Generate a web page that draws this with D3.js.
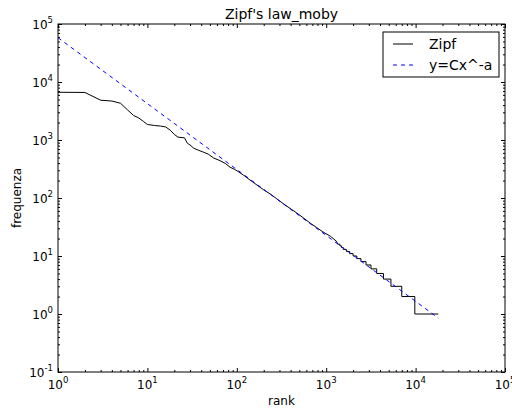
<!DOCTYPE html>
<html>
<head>
<meta charset="utf-8">
<script src="https://cdn.jsdelivr.net/npm/d3@7"></script>
<style>
body { margin:0; background:#fff; }
svg { display:block; font-family:"DejaVu Sans", sans-serif; }
.axis path { stroke:none; }
.axis line { stroke:#000; stroke-width:1; }
</style>
</head>
<body>
<div id="chart"></div>
<script>
// rank / frequency (head of the curve)
var headRank = [1, 2, 3, 4, 5, 6, 7, 8, 9, 10, 12, 14, 16, 18, 20, 22, 26, 28, 30, 33, 37, 42, 48, 55, 65, 75, 84, 95, 104, 120, 140, 170, 200, 235, 280, 330, 395, 470, 560, 660, 780, 920, 1110, 1300]
var headFreq = [6650, 6600, 4850, 4700, 4300, 3300, 2650, 2400, 2100, 1850, 1780, 1740, 1680, 1480, 1250, 1120, 1090, 880, 820, 720, 670, 620, 570, 490, 440, 390, 340, 310, 285, 245, 205, 165, 138, 118, 97, 80, 66, 55, 45, 37, 31, 26, 22, 18]

// tail: frequency levels and the rank where each level starts
var stepFreq  = [16, 15, 14, 13, 12, 11, 10, 9, 8, 7, 6, 5, 4, 3, 2, 1]
var stepStart = [1350, 1420, 1480, 1550, 1680, 1830, 2000, 2200, 2450, 2790, 3170, 3670, 4370, 5300, 7000, 9800]
var lastRank = 17950

// fitted y=Cx^-a, end points
var fitRank = [1, 17950]
var fitFreq = [58000, 0.85]

var xTicks = [1, 10, 100, 1000, 10000, 100000]
var yTicks = [0.1, 1, 10, 100, 1000, 10000, 100000]
var xExp = ['0', '1', '2', '3', '4', '5']
var yExp = ['-1', '0', '1', '2', '3', '4', '5']

var width = 512, height = 408
var margin = {'top':24, 'bottom':36, 'left':58, 'right':7}
var iw = width - margin.left - margin.right
var ih = height - margin.top - margin.bottom

var svg = d3.select('#chart').append('svg')
	.attr('width', width)
	.attr('height', height)

var x = d3.scaleLog().domain([1, 1e5]).range([0, iw])
var y = d3.scaleLog().domain([0.1, 1e5]).range([ih, 0])

var minor = function(lo, hi) {
	var out = []
	for (var d = lo; d < hi; d *= 10) {
		for (var k = 2; k < 10; k++) out.push(d * k)
	}
	return out
}
var xMinor = minor(1, 1e5)
var yMinor = minor(0.1, 1e5)

var g = svg.append('g').attr('transform', 'translate(' + margin.left + ',' + margin.top + ')')

// zipf vertices
var zipf = headRank.map(function(r, i) { return [r, headFreq[i]] })
stepFreq.forEach(function(f, i) {
	var end = i < stepStart.length - 1 ? stepStart[i + 1] : lastRank
	zipf.push([stepStart[i], f])
	zipf.push([end, f])
})
var fit = fitRank.map(function(r, i) { return [r, fitFreq[i]] })

var line = d3.line()
	.x(function(d) { return x(d[0]) })
	.y(function(d) { return y(d[1]) })

g.append('clipPath').attr('id', 'clip')
	.append('rect').attr('width', iw).attr('height', ih)

var plot = g.append('g').attr('clip-path', 'url(#clip)')

plot.append('path').datum(zipf)
	.attr('d', line)
	.attr('fill', 'none')
	.attr('stroke', '#000')
	.attr('stroke-width', 1)

plot.append('path').datum(fit)
	.attr('d', line)
	.attr('fill', 'none')
	.attr('stroke', '#0000ff')
	.attr('stroke-width', 1)
	.attr('stroke-dasharray', '4,4')

// ticks on every side, pointing inward
var addAxis = function(axisFn, scale, vals, size, tr) {
	g.append('g').attr('class', 'axis')
		.attr('transform', tr)
		.call(axisFn(scale).tickValues(vals).tickSize(size).tickFormat(''))
}
addAxis(d3.axisBottom, x, xTicks, -4, 'translate(0,' + ih + ')')
addAxis(d3.axisBottom, x, xMinor, -2, 'translate(0,' + ih + ')')
addAxis(d3.axisTop, x, xTicks, -4, 'translate(0,0)')
addAxis(d3.axisTop, x, xMinor, -2, 'translate(0,0)')
addAxis(d3.axisLeft, y, yTicks, -4, 'translate(0,0)')
addAxis(d3.axisLeft, y, yMinor, -2, 'translate(0,0)')
addAxis(d3.axisRight, y, yTicks, -4, 'translate(' + iw + ',0)')
addAxis(d3.axisRight, y, yMinor, -2, 'translate(' + iw + ',0)')

g.append('rect')
	.attr('width', iw).attr('height', ih)
	.attr('fill', 'none').attr('stroke', '#000').attr('stroke-width', 1)

// tick labels with superscripts
var xl = g.selectAll('.xl').data(xTicks).enter().append('text')
	.attr('class', 'xl')
	.attr('x', function(d) { return x(d) })
	.attr('y', ih + 17)
	.attr('text-anchor', 'middle')
	.attr('font-size', 12)
xl.append('tspan').text('10')
xl.append('tspan').attr('dy', -6).attr('font-size', 8.5).text(function(d, i) { return xExp[i] })

var yl = g.selectAll('.yl').data(yTicks).enter().append('text')
	.attr('class', 'yl')
	.attr('x', -5)
	.attr('y', function(d) { return y(d) + 5 })
	.attr('text-anchor', 'end')
	.attr('font-size', 12)
yl.append('tspan').text('10')
yl.append('tspan').attr('dy', -6).attr('font-size', 8.5).text(function(d, i) { return yExp[i] })

svg.append('text')
	.attr('x', margin.left + iw / 2).attr('y', 19)
	.attr('text-anchor', 'middle').attr('font-size', 14)
	.text("Zipf's law_moby")

svg.append('text')
	.attr('x', margin.left + iw / 2).attr('y', 405)
	.attr('text-anchor', 'middle').attr('font-size', 12)
	.text('rank')

svg.append('text')
	.attr('transform', 'translate(21,' + (margin.top + ih / 2) + ') rotate(-90)')
	.attr('text-anchor', 'middle').attr('font-size', 12)
	.text('frequenza')

// legend
var lg = svg.append('g').attr('transform', 'translate(383,32)')
lg.append('rect').attr('width', 116).attr('height', 45)
	.attr('fill', '#fff').attr('stroke', '#000').attr('stroke-width', 1)
var items = [
	{'label':'Zipf', 'color':'#000', 'dash':null},
	{'label':'y=Cx^-a', 'color':'#0000ff', 'dash':'4,4'}
]
items.forEach(function(it, i) {
	var yy = 12 + i * 21
	lg.append('line').attr('x1', 10).attr('x2', 30).attr('y1', yy).attr('y2', yy)
		.attr('stroke', it.color).attr('stroke-width', 1)
		.attr('stroke-dasharray', it.dash)
	lg.append('text').attr('x', 46).attr('y', yy + 5)
		.attr('font-size', 14).text(it.label)
})
</script>
</body>
</html>
